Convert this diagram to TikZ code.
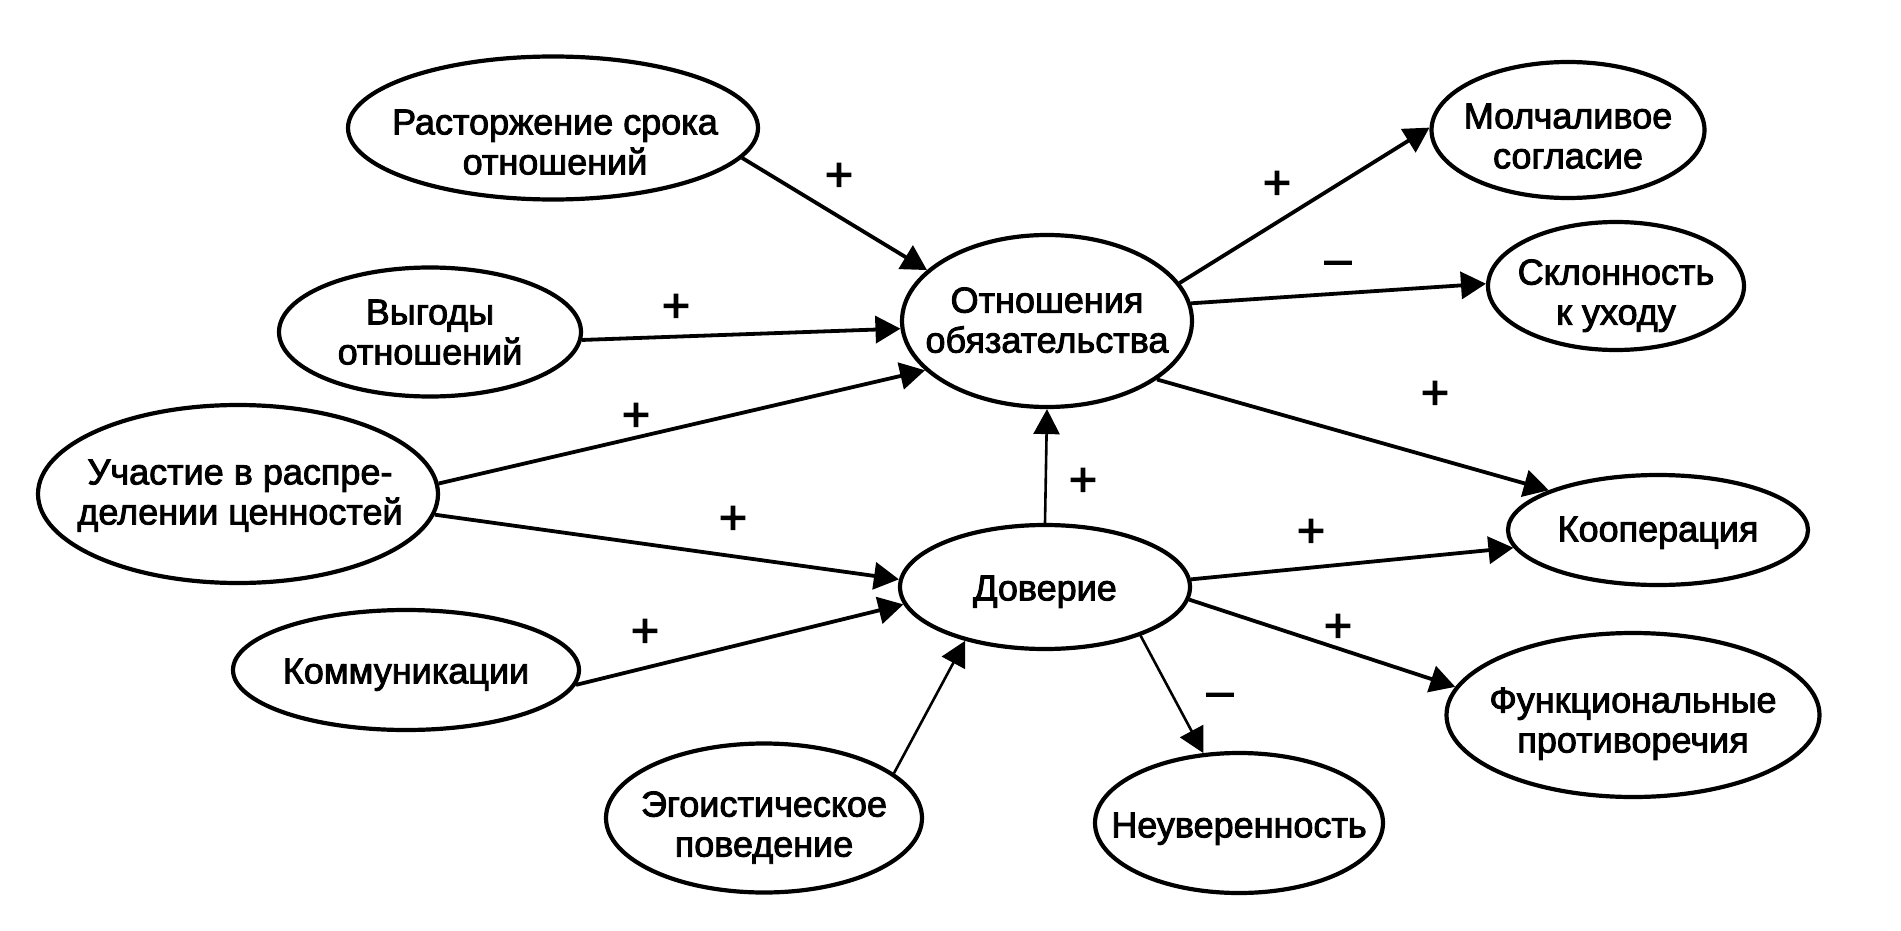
\documentclass[tikz,border=0pt]{standalone}
\usepackage{fontspec}
\setmainfont{Liberation Sans}[FakeBold=2.5]
\usetikzlibrary{shapes.geometric,arrows.meta}
\begin{document}
\begin{tikzpicture}[x=0.5pt,y=-0.5pt,
  ell/.style={ellipse, draw, line width=2.1pt, inner sep=0pt},
  txt/.style={align=center, inner sep=0pt, text depth=0pt, font=\fontsize{18}{20}\selectfont},
  arr/.style={-{Triangle[length=12.5pt,width=13.5pt]}, line width=1.9pt},
  tarr/.style={-{Triangle[length=12.5pt,width=13pt]}, line width=1.3pt},
  sgn/.style={inner sep=0pt, font=\fontsize{24}{24}\selectfont}]
\useasboundingbox (0,0) rectangle (1901,931);
% ellipses
\node[ell, minimum width=205pt, minimum height=71.5pt] (rast) at (553,128) {};
\node[ell, minimum width=151pt, minimum height=64.5pt] (vyg) at (430,332) {};
\node[ell, minimum width=200pt, minimum height=89pt] (uch) at (238,494) {};
\node[ell, minimum width=173pt, minimum height=60pt] (komm) at (406,670) {};
\node[ell, minimum width=158pt, minimum height=74.5pt] (ego) at (764,818) {};
\node[ell, minimum width=145pt, minimum height=86pt] (otn) at (1047,321) {};
\node[ell, minimum width=145pt, minimum height=62pt] (dov) at (1045,587) {};
\node[ell, minimum width=136.5pt, minimum height=68pt] (molch) at (1568,130) {};
\node[ell, minimum width=128pt, minimum height=64pt] (skl) at (1616,286) {};
\node[ell, minimum width=150pt, minimum height=55pt] (koop) at (1658,530) {};
\node[ell, minimum width=186.5pt, minimum height=82pt] (func) at (1633,715) {};
\node[ell, minimum width=144pt, minimum height=70pt] (neuv) at (1239,823) {};
% texts
\node[txt] (rast-t) at (555,142) {Расторжение срока\\отношений};
\node[txt] (vyg-t) at (430,332) {Выгоды\\отношений};
\node[txt] (uch-t) at (240,492) {Участие в распре-\\делении ценностей};
\node[txt] (komm-t) at (406,671) {Коммуникации};
\node[txt] (ego-t) at (764,824) {Эгоистическое\\поведение};
\node[txt] (otn-t) at (1047,320) {Отношения\\обязательства};
\node[txt] (dov-t) at (1045,588) {Доверие};
\node[txt] (molch-t) at (1568,136) {Молчаливое\\согласие};
\node[txt] (skl-t) at (1616,292) {Склонность\\к уходу};
\node[txt] (koop-t) at (1658,529) {Кооперация};
\node[txt] (func-t) at (1633,720) {Функциональные\\противоречия};
\node[txt] (neuv-t) at (1239,825) {Неуверенность};
% connectors
\draw[arr] (rast.-9) -- (otn.157);
\draw[arr] (vyg.-3) -- (otn.-177);
\draw[arr] (uch.3) -- (otn.-158);
\draw[arr] (uch.-6) -- (dov.177);
\draw[arr] (komm.-5) -- (dov.-173);
\draw[tarr] (ego.19) -- (dov.-146);
\draw[tarr] (dov.90) -- (otn.-90);
\draw[arr] (otn.16) -- (molch.179);
\draw[arr] (otn.7) -- (skl.179);
\draw[arr] (otn.-28) -- (koop.160);
\draw[arr] (dov.3) -- (koop.-173);
\draw[arr] (dov.-5) -- (func.171);
\draw[tarr] (dov.-27) -- (neuv.117);
% signs
\node[sgn] (s1) at (839,177) {+};
\node[sgn] (s2) at (676,308) {+};
\node[sgn] (s3) at (636,417) {+};
\node[sgn] (s4) at (733,520) {+};
\node[sgn] (s5) at (645,633) {+};
\node[sgn] (s6) at (1083,482) {+};
\node[sgn] (s7) at (1277,185) {+};
\node[sgn] (s8) at (1338,268) {–};
\node[sgn] (s9) at (1435,395) {+};
\node[sgn] (s10) at (1311,533) {+};
\node[sgn] (s11) at (1338,628) {+};
\node[sgn] (s12) at (1220,700) {–};
\end{tikzpicture}
\end{document}
